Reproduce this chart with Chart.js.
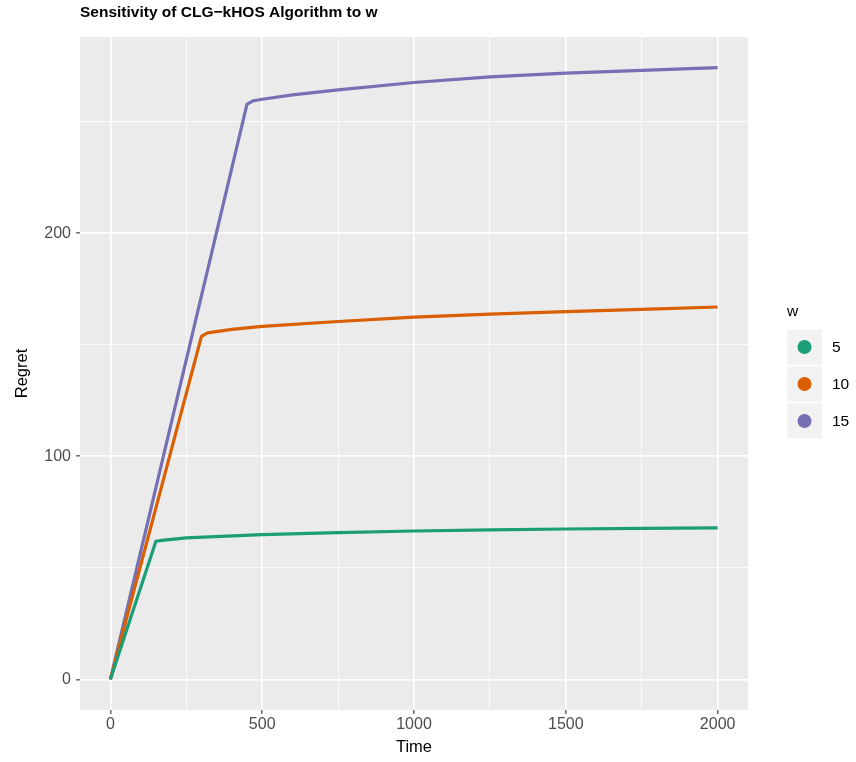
<!DOCTYPE html>
<html><head><meta charset="utf-8">
<script src="https://cdn.jsdelivr.net/npm/chart.js@4/dist/chart.umd.min.js"></script>
<style>html,body{margin:0;padding:0;background:#fff}canvas{display:block}</style>
</head><body>
<canvas id="c" width="856" height="762"></canvas>
<script>
const chartTitle = 'Sensitivity of CLG\u2212kHOS Algorithm to w';
const xTitle = 'Time';
const yTitle = 'Regret';
const legendTitle = 'w';
const seriesNames = ['5', '10', '15'];
const seriesColors = ['#1B9E77', '#D95F02', '#7570B3'];

const timeW5 = [0, 150, 170, 250, 500, 750, 1000, 1250, 1500, 1750, 2000];
const regretW5 = [0, 61.9, 62.3, 63.4, 64.9, 65.8, 66.5, 67.0, 67.4, 67.7, 67.9];
const timeW10 = [0, 300, 320, 400, 500, 750, 1000, 1250, 1500, 1750, 2000];
const regretW10 = [0, 153.7, 155.3, 156.9, 158.2, 160.4, 162.4, 163.7, 164.8, 165.8, 166.9];
const timeW15 = [0, 450, 470, 500, 600, 750, 1000, 1250, 1500, 1750, 2000];
const regretW15 = [0, 257.8, 259.3, 260.0, 262.0, 264.2, 267.5, 270.0, 271.7, 272.9, 274.2];

const xMajorTicks = [0, 500, 1000, 1500, 2000];
const xMinorTicks = [250, 750, 1250, 1750];
const yMajorTicks = [0, 100, 200];
const yMinorTicks = [50, 150, 250];

const seriesTimes = [timeW5, timeW10, timeW15];
const seriesValues = [regretW5, regretW10, regretW15];

const FONT = '"Liberation Sans", Arial, Helvetica, sans-serif';

const datasets = seriesNames.map((n, i) => ({
  label: n,
  data: seriesTimes[i].map((t, j) => ({x: t, y: seriesValues[i][j]})),
  borderColor: seriesColors[i],
  backgroundColor: seriesColors[i],
  borderWidth: 3.2,
  pointRadius: 0,
  tension: 0,
  borderJoinStyle: 'round',
  borderCapStyle: 'butt',
  fill: false
}));

function mkTicks(maj, min) {
  return maj.concat(min).sort((a, b) => a - b).map(v => ({value: v}));
}

const decor = {
  id: 'decor',
  beforeDraw(chart) {
    const {ctx, chartArea: a} = chart;
    ctx.save();
    ctx.fillStyle = '#EBEBEB';
    ctx.fillRect(a.left, a.top, a.right - a.left, a.bottom - a.top);
    ctx.restore();
  },
  afterDraw(chart) {
    const {ctx, chartArea: a} = chart;
    ctx.save();
    ctx.fillStyle = '#000';
    ctx.font = 'bold 15.5px ' + FONT;
    ctx.textAlign = 'left';
    ctx.textBaseline = 'middle';
    ctx.fillText(chartTitle, a.left, 13);
    ctx.font = '16.5px ' + FONT;
    ctx.textAlign = 'center';
    ctx.fillText(xTitle, (a.left + a.right) / 2, 747);
    ctx.save();
    ctx.translate(22, (a.top + a.bottom) / 2);
    ctx.rotate(-Math.PI / 2);
    ctx.fillText(yTitle, 0, 0);
    ctx.restore();
    ctx.textAlign = 'left';
    ctx.font = '15.5px ' + FONT;
    ctx.fillText(legendTitle, 787, 312);
    seriesNames.forEach((n, i) => {
      const top = 329.5 + i * 37;
      ctx.fillStyle = '#F2F2F2';
      ctx.fillRect(787, top, 35, 35);
      ctx.fillStyle = seriesColors[i];
      ctx.beginPath();
      ctx.arc(804.5, top + 17.5, 7, 0, Math.PI * 2);
      ctx.fill();
      ctx.fillStyle = '#000';
      ctx.font = '15.5px ' + FONT;
      ctx.fillText(n, 832, top + 18);
    });
    ctx.restore();
  }
};

new Chart(document.getElementById('c'), {
  type: 'line',
  data: {datasets},
  plugins: [decor],
  options: {
    responsive: false,
    animation: false,
    devicePixelRatio: 1,
    layout: {padding: {top: 37, right: 108, left: 0, bottom: 0}},
    plugins: {legend: {display: false}, title: {display: false}, tooltip: {enabled: false}},
    scales: {
      x: {
        type: 'linear',
        min: -100,
        max: 2100,
        afterBuildTicks: s => { s.ticks = mkTicks(xMajorTicks, xMinorTicks); },
        afterFit: s => { s.height = 52; },
        border: {display: false},
        grid: {
          color: '#FFFFFF',
          lineWidth: c => xMajorTicks.includes(c.tick && c.tick.value) ? 1.7 : 0.8,
          tickColor: c => xMajorTicks.includes(c.tick && c.tick.value) ? '#333333' : 'rgba(0,0,0,0)',
          tickWidth: 1.1,
          tickLength: 4,
          drawTicks: true
        },
        ticks: {
          autoSkip: false,
          maxRotation: 0,
          color: '#4D4D4D',
          font: {family: FONT, size: 16},
          padding: 1,
          callback: v => xMajorTicks.includes(v) ? String(v) : ''
        }
      },
      y: {
        type: 'linear',
        min: -13.71,
        max: 287.9,
        afterBuildTicks: s => { s.ticks = mkTicks(yMajorTicks, yMinorTicks); },
        afterFit: s => { s.width = 80; },
        border: {display: false},
        grid: {
          color: '#FFFFFF',
          lineWidth: c => yMajorTicks.includes(c.tick && c.tick.value) ? 1.7 : 0.8,
          tickColor: c => yMajorTicks.includes(c.tick && c.tick.value) ? '#333333' : 'rgba(0,0,0,0)',
          tickWidth: 1.1,
          tickLength: 4,
          drawTicks: true
        },
        ticks: {
          autoSkip: false,
          color: '#4D4D4D',
          font: {family: FONT, size: 16},
          padding: 5,
          callback: v => yMajorTicks.includes(v) ? String(v) : ''
        }
      }
    }
  }
});
</script>
</body></html>
